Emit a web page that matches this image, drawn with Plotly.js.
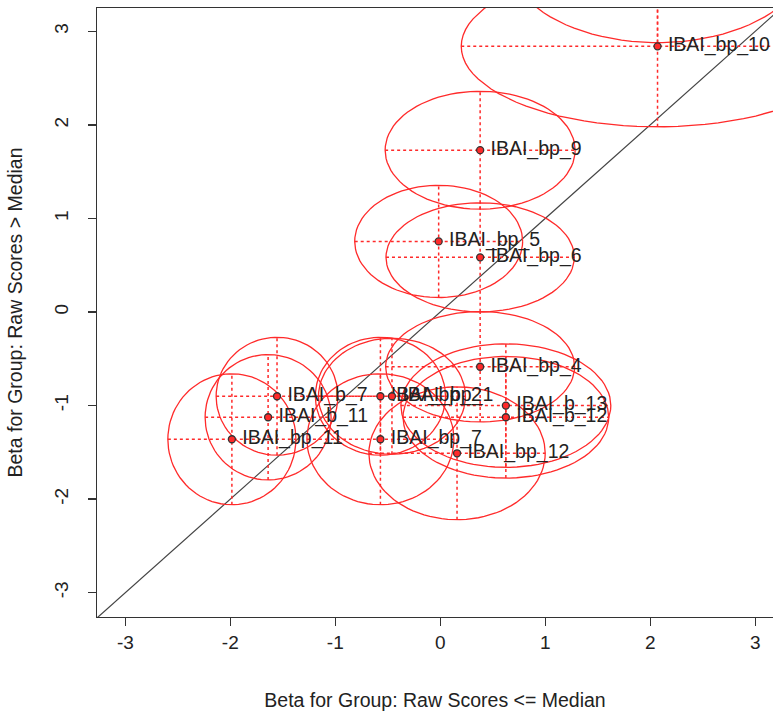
<!DOCTYPE html>
<html><head><meta charset="utf-8">
<script src="https://cdn.plot.ly/plotly-3.0.1.min.js"></script>
<style>html,body{margin:0;padding:0;background:#fff}#chart{width:773px;height:718px}</style>
</head><body><div id="chart"></div>
<script>
// Item labels (visible points)
const itemLabels = ["IBAI_bp_10","IBAI_bp_9","IBAI_bp_5","IBAI_bp_6","IBAI_bp_4","IBAI_b_13","IBAI_b_12","IBAI_bp_12","IBAI_bp_7","IBAI_bp_2","IBAI_bp_1","IBAI_b_7","IBAI_b_11","IBAI_bp_11"];
// Beta for group: raw scores <= median (x)
const betaLow  = [2.07, 0.38, -0.015, 0.38, 0.38, 0.625, 0.625, 0.16, -0.57, -0.57, -0.46, -1.555, -1.64, -1.985];
// Beta for group: raw scores > median (y)
const betaHigh = [2.84, 1.73, 0.755, 0.585, -0.585, -1.0, -1.125, -1.51, -1.36, -0.9, -0.9, -0.9, -1.125, -1.36];
// Confidence half-widths (x) and half-heights (y)
const ciLow  = [1.87, 0.905, 0.80, 0.897, 0.90, 1.0, 0.98, 0.84, 0.70, 0.62, 0.70, 0.58, 0.60, 0.61];
const ciHigh = [0.86, 0.63, 0.60, 0.583, 0.59, 0.66, 0.65, 0.71, 0.70, 0.63, 0.62, 0.63, 0.67, 0.70];
// Item whose centre lies above the plotted region (only its ellipse arc shows)
const outsideBetaLow  = [2.07];
const outsideBetaHigh = [3.78];
const outsideCiLow    = [1.42];
const outsideCiHigh   = [0.90];
// Identity reference line
const identityLine = [-4, 4];
// Axis ticks
const tickValues = [-3, -2, -1, 0, 1, 2, 3];
const tickLabels = ["-3", "-2", "-1", "0", "1", "2", "3"];

const ex = [], ey = [], cx = [], cy = [];
function addItem(x, y, a, b) {
  const n = 90;
  for (let k = 0; k <= n; k++) {
    const t = 2 * Math.PI * k / n;
    ex.push(x + a * Math.cos(t));
    ey.push(y + b * Math.sin(t));
  }
  ex.push(null); ey.push(null);
  cx.push(x - a, x + a, null, x, x, null);
  cy.push(y, y, null, y - b, y + b, null);
}
for (let i = 0; i < itemLabels.length; i++) addItem(betaLow[i], betaHigh[i], ciLow[i], ciHigh[i]);
for (let i = 0; i < outsideBetaLow.length; i++) addItem(outsideBetaLow[i], outsideBetaHigh[i], outsideCiLow[i], outsideCiHigh[i]);

const font = "Liberation Sans, Arial, sans-serif";
const red = "#ff2a2a";
const ink = "#222";

const traces = [
  {x: identityLine, y: identityLine, mode: "lines", line: {color: "#444", width: 1.2}, hoverinfo: "skip"},
  {x: ex, y: ey, mode: "lines", line: {color: red, width: 1.3}, hoverinfo: "skip"},
  {x: cx, y: cy, mode: "lines", line: {color: red, width: 1.5, dash: "dot"}, hoverinfo: "skip"},
  {x: betaLow, y: betaHigh, text: itemLabels, mode: "markers+text", textposition: "middle right",
   textfont: {family: font, size: 19.5, color: ink},
   marker: {size: 15, color: "rgba(0,0,0,0)", line: {width: 0}}, hoverinfo: "skip"},
  {x: betaLow, y: betaHigh, mode: "markers",
   marker: {size: 7, color: red, line: {color: "#333", width: 1.3}}}
];

const layout = {
  width: 773, height: 718,
  margin: {l: 97, r: 0, t: 8, b: 101},
  showlegend: false,
  paper_bgcolor: "#fff", plot_bgcolor: "#fff",
  font: {family: font, size: 19, color: ink},
  xaxis: {
    range: [-3.27, 3.17], tickvals: tickValues, ticktext: tickLabels, ticks: "outside", ticklen: 8, tickwidth: 1.3, tickcolor: "#333",
    showline: true, linecolor: "#333", linewidth: 1.3, mirror: true, showgrid: false, zeroline: false,
    tickfont: {family: font, size: 19, color: ink}, ticklabelstandoff: 0,
    title: {text: "Beta for Group: Raw Scores &lt;= Median", font: {family: font, size: 19.5, color: ink}, standoff: 41}
  },
  yaxis: {
    range: [-3.26, 3.25], tickvals: tickValues, ticktext: tickLabels, ticks: "outside", ticklen: 8, tickwidth: 1.3, tickcolor: "#333",
    showline: true, linecolor: "#333", linewidth: 1.3, mirror: false, showgrid: false, zeroline: false,
    tickangle: -90, tickfont: {family: font, size: 19, color: ink}, ticklabelstandoff: 12,
    title: {text: "Beta for Group: Raw Scores &gt; Median", font: {family: font, size: 19.5, color: ink}, standoff: 23}
  }
};

Plotly.newPlot("chart", traces, layout, {displayModeBar: false, staticPlot: true});
</script>
</body></html>
